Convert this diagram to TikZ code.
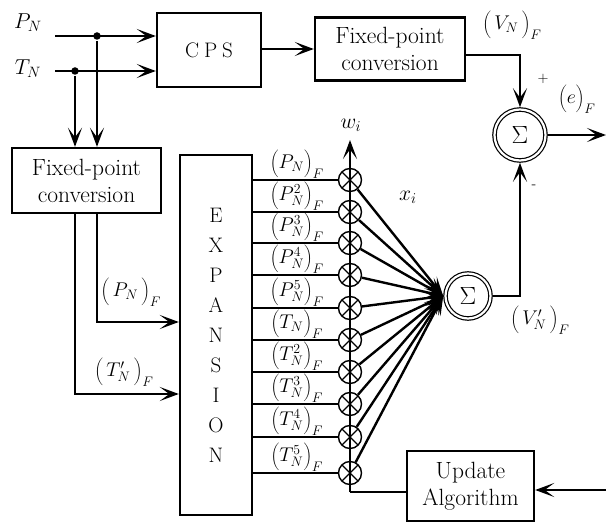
\documentclass[tikz,border=0pt]{standalone}
\usepackage{graphicx}
\usetikzlibrary{arrows.meta}
\newcommand\pp[1]{\left(\vrule height 15pt depth 8pt width 0pt #1\right)}
\newcommand\lb[1]{\scalebox{1.15}{$#1$}}
\begin{document}
\begin{tikzpicture}[x=1pt,y=-1pt,line width=2.4pt,
  arr/.style={-{Stealth[length=19pt,width=14pt,inset=9.5pt]}},
  blk/.style={draw,line width=2.4pt,align=center,inner sep=0pt,font=\fontsize{23.5}{27}\selectfont},
  lab/.style={inner sep=0pt,font=\fontsize{17.28}{20}\selectfont},
  mul/.style={draw,circle,line width=1.4pt,minimum size=23pt,inner sep=0pt,
    path picture={\draw[line width=1.4pt] (path picture bounding box.south west) -- (path picture bounding box.north east) (path picture bounding box.north west) -- (path picture bounding box.south east);}},
  sumnode/.style={circle,draw,double,double distance=2.2pt,line width=1.2pt,inner sep=0pt,outer sep=2.3pt,font=\fontsize{24.88}{26}\selectfont},
  dot/.style={circle,fill,inner sep=0pt,minimum size=7.5pt},
  sgn/.style={inner sep=0pt,font=\fontsize{14.4}{18}\selectfont}
]
\useasboundingbox (0,0) rectangle (606,524);

% inputs
\node[lab] (pn) at (28,23) {\scalebox{1.25}{$P_N$}};
\node[lab] (tn) at (28,69) {\scalebox{1.25}{$T_N$}};
\coordinate (pnS) at (55,36);
\coordinate (tnS) at (55,71);
\node[blk,minimum width=104pt,minimum height=74pt,font=\fontsize{21}{24}\selectfont] (cps) at (209,50) {C\hspace{5pt}P\hspace{5pt}S};
\node[dot] (dp) at (97,36) {};
\node[dot] (dt) at (75,71) {};
\draw[arr] (pnS) -- (pnS -| cps.west);
\draw[arr] (tnS) -- (tnS -| cps.west);

% top conversion
\node[blk,minimum width=150pt,minimum height=63pt] (fpc2) at (390,49) {Fixed-point\\conversion};
\draw[arr] (cps.east |- fpc2) -- (fpc2.west);
\node[sumnode,minimum size=51pt] (sumA) at (520,135) {$\Sigma$};
\draw[arr] ([yshift=-6pt]fpc2.east) -| (sumA.north);
\node[sgn] (plus) at (543,79) {$+$};
\node[lab] (vn) at (512,25) {\lb{\pp{\,V_N\,}_F}};
\node[lab] (ef) at (577,99) {\lb{\pp{e}_F}};
\coordinate (eout) at (606,135);
\draw[arr] (sumA.east) -- (eout);

% left conversion
\node[blk,minimum width=149pt,minimum height=65pt] (fpc1) at (86.5,180.5) {Fixed-point\\conversion};
\draw[arr] (dt) -- (dt |- fpc1.north);
\draw[arr] (dp) -- (dp |- fpc1.north);

% expansion
\node[blk,minimum width=72pt,minimum height=360pt,font=\fontsize{21}{30}\selectfont] (exp) at (216,335) {E\\X\\P\\A\\N\\S\\I\\O\\N};
\coordinate (c1) at (97,322);
\coordinate (c2) at (75,394);
\draw[arr] (fpc1.south -| c1) -- (c1) -- (c1 -| exp.west);
\draw[arr] (fpc1.south -| c2) -- (c2) -- (c2 -| exp.west);
\node[lab] (pf) at (131,292) {\lb{\pp{\,P_N\,}_F}};
\node[lab] (tf) at (124,372) {\lb{\pp{\,T'_N\,}_F}};

% summation of products
\node[sumnode,minimum size=45pt] (sumB) at (468,296) {$\Sigma$};

\foreach \y/\t [count=\i] in {180/P_N, 212/P_N^2, 243/P_N^3, 275/P_N^4, 308/P_N^5, 340/T_N, 372/T_N^2, 404/T_N^3, 437/T_N^4, 473/T_N^5} {
  \node[mul] (m\i) at (350,\y) {};
  \coordinate (r\i) at (exp.east |- m\i);
  \draw (r\i) -- (m\i);
  \node[lab] (l\i) at (297,\y-16) {\lb{\pp{\t}_F}};
  \draw[arr] (m\i) -- (sumB.west);
}

\coordinate (vb) at (350,492);
\coordinate (vt) at (350,140);
\draw[arr] (vb) -- (vt);
\node[lab] (wi) at (351,125) {\scalebox{1.25}{$w_i$}};
\node[lab] (xi) at (408,197) {\scalebox{1.25}{$x_i$}};

% update algorithm
\node[blk,minimum width=127pt,minimum height=70pt] (upd) at (470.5,486) {Update\\Algorithm};
\draw (vb) -- (vb -| upd.west);
\coordinate (uin) at (606,490);
\draw[arr] (uin) -- (uin -| upd.east);

% feedback to error sum
\draw[arr] (sumB.east) -| (sumA.south);
\node[sgn] (minus) at (534,187) {-};
\node[lab] (vpf) at (540,320) {\lb{\pp{\,V'_N\,}_F}};
\end{tikzpicture}
\end{document}
